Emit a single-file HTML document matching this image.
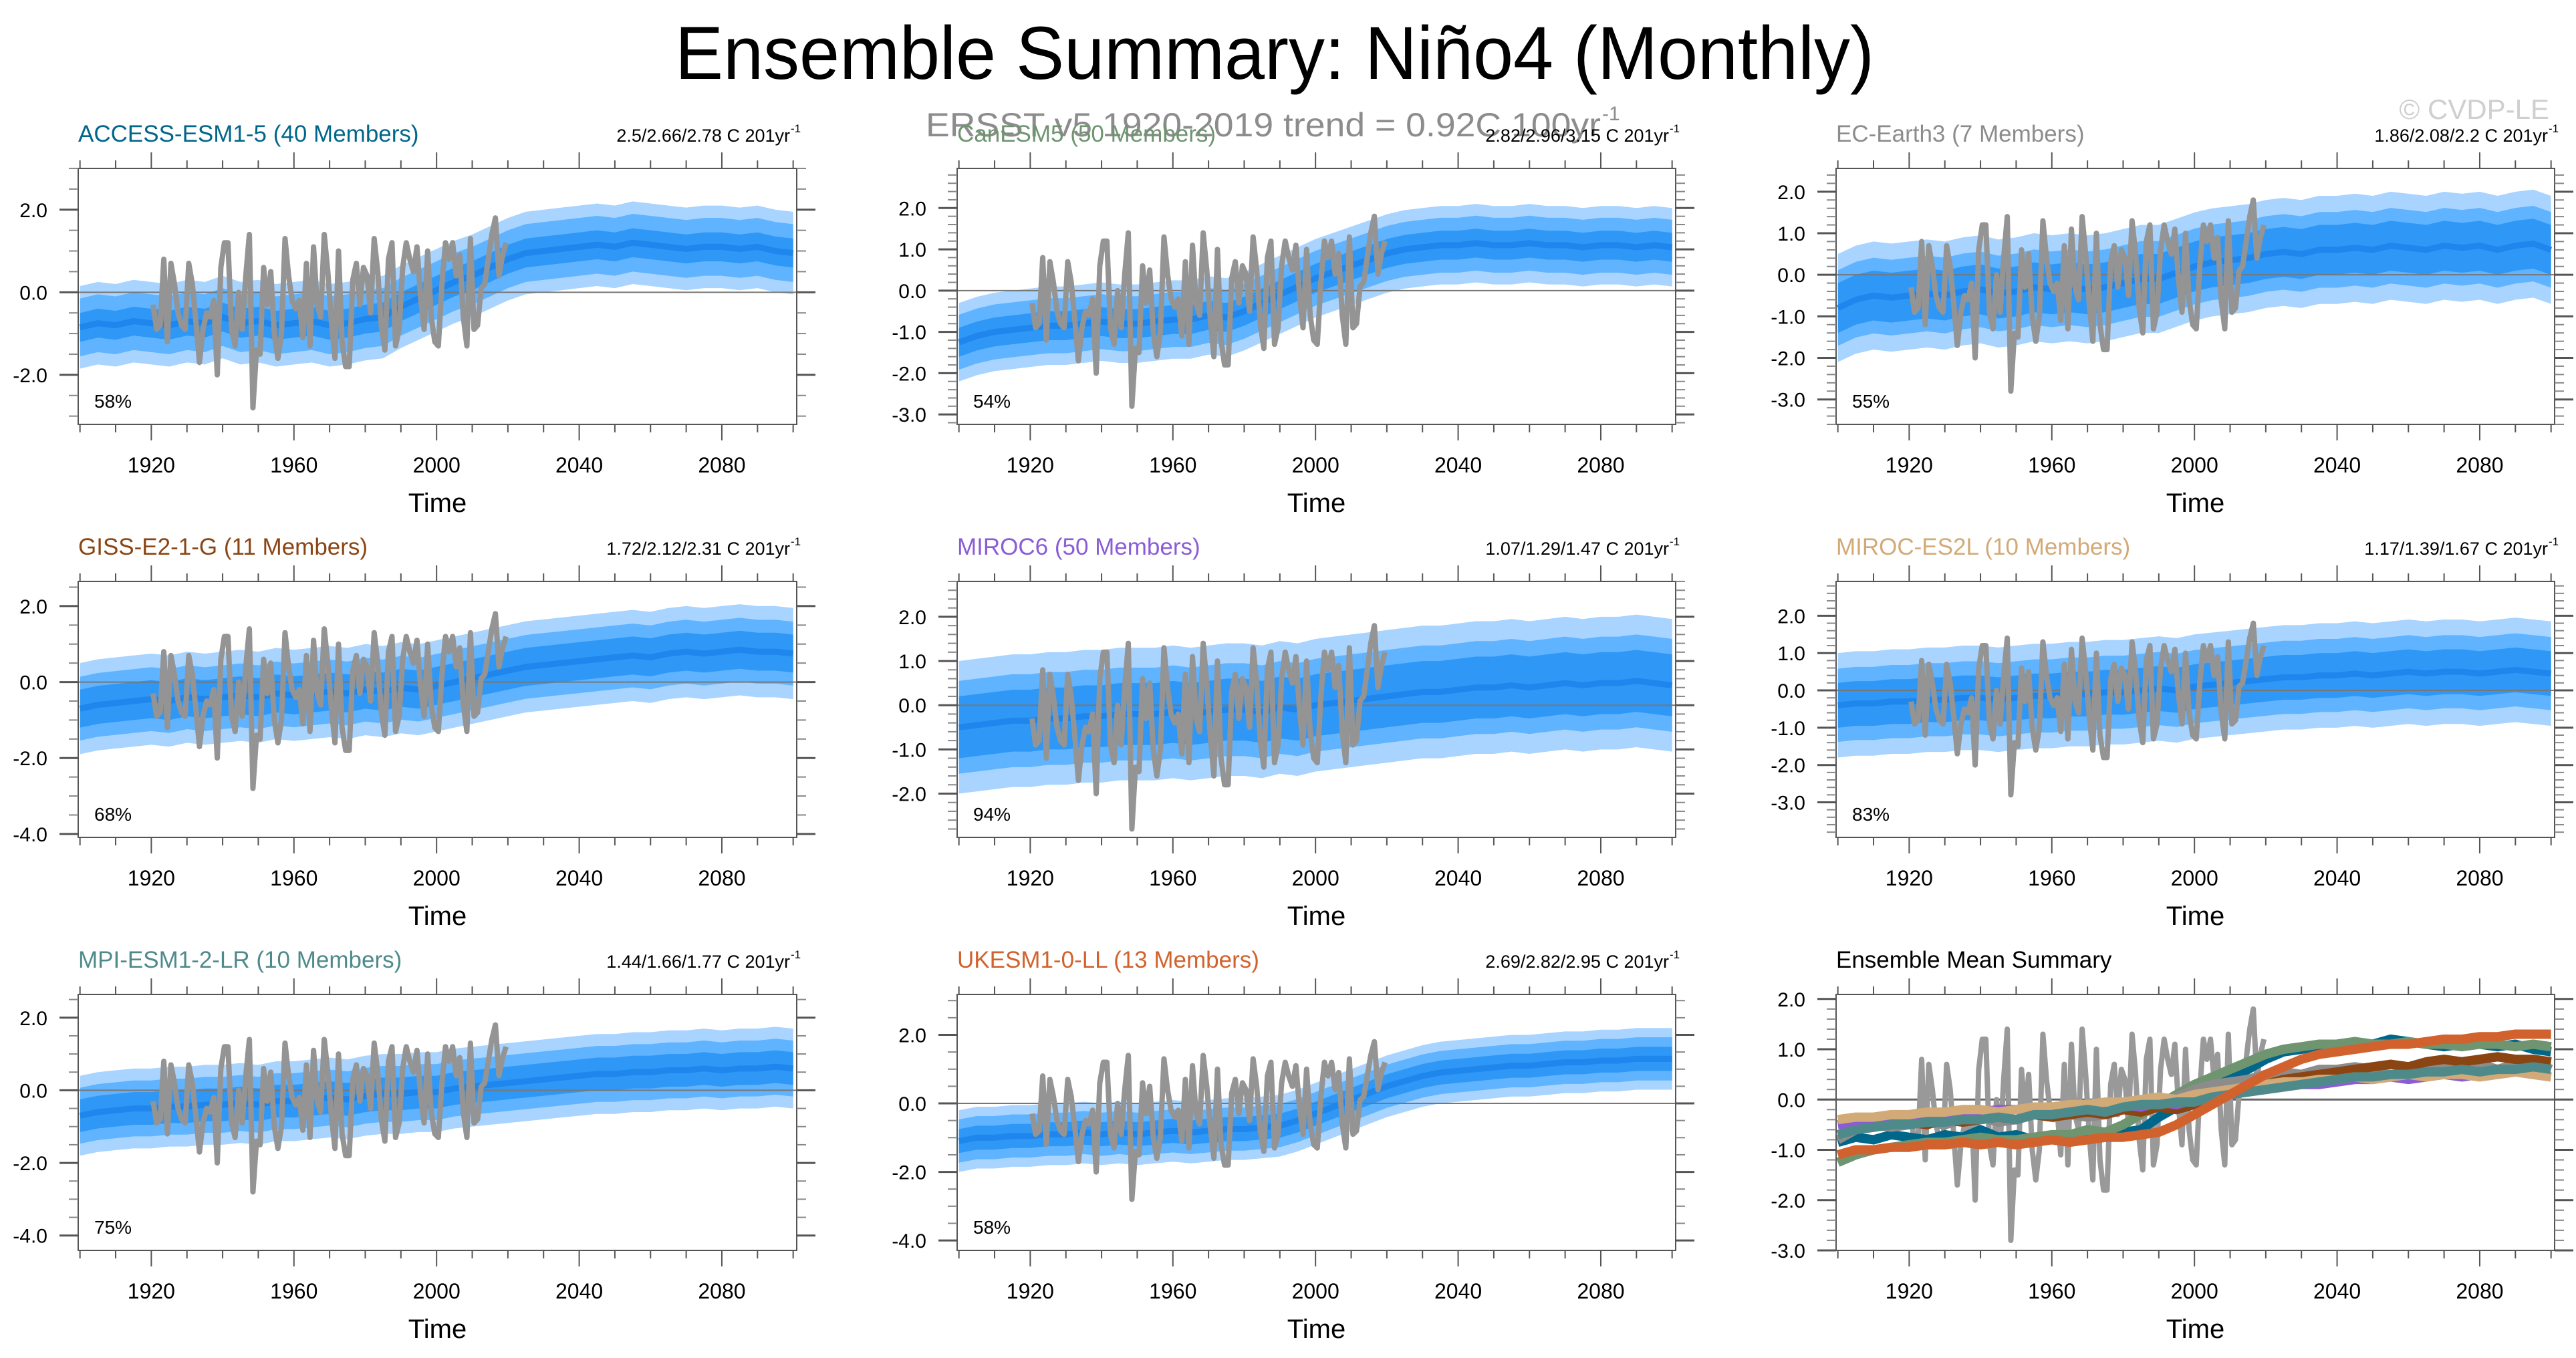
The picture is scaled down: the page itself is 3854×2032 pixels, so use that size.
<!DOCTYPE html>
<html><head><meta charset="utf-8"><style>
html,body{margin:0;padding:0;background:#fff}
svg{display:block;font-family:"Liberation Sans",sans-serif}
</style></head><body>
<svg id="chart" width="3854" height="2032" viewBox="0 0 3854 2032" xmlns="http://www.w3.org/2000/svg">
<text x="1907" y="118" font-size="112" text-anchor="middle" textLength="1794" lengthAdjust="spacingAndGlyphs">Ensemble Summary: Niño4 (Monthly)</text>
<text x="1385" y="204" font-size="50" fill="#8c8c8c" textLength="1010" lengthAdjust="spacingAndGlyphs">ERSST v5 1920-2019 trend = 0.92C 100yr</text>
<text x="2397" y="180" font-size="30" fill="#8c8c8c">-1</text>
<text x="3814" y="178" font-size="42" fill="#cfcfcf" text-anchor="end">© CVDP-LE</text>
<g id="panels"></g>
</svg>
<script>
// ---- data ----
const models = ["ACCESS-ESM1-5 (40 Members)","CanESM5 (50 Members)","EC-Earth3 (7 Members)","GISS-E2-1-G (11 Members)","MIROC6 (50 Members)","MIROC-ES2L (10 Members)","MPI-ESM1-2-LR (10 Members)","UKESM1-0-LL (13 Members)"];
const modelColors = ["#00678a","#6f9470","#8c8c8c","#8b4513","#8a5cd6","#d2aa78","#4f8a8b","#d2622d"];
const trendLabels = ["2.5/2.66/2.78 C 201yr","2.82/2.96/3.15 C 201yr","1.86/2.08/2.2 C 201yr","1.72/2.12/2.31 C 201yr","1.07/1.29/1.47 C 201yr","1.17/1.39/1.67 C 201yr","1.44/1.66/1.77 C 201yr","2.69/2.82/2.95 C 201yr"];
const pctLabels = ["58%","54%","55%","68%","94%","83%","75%","58%"];
const yMins = [-3.2,-3.24,-3.6,-4.09,-2.99,-3.94,-4.41,-4.29,-3.0];
const yMaxs = [3.0,2.96,2.56,2.65,2.8,2.92,2.64,3.18,2.09];
const yTickSets = [[2,0,-2],[2,1,0,-1,-2,-3],[2,1,0,-1,-2,-3],[2,0,-2,-4],[2,1,0,-1,-2],[2,1,0,-1,-2,-3],[2,0,-2,-4],[2,0,-2,-4],[2,1,0,-1,-2,-3]];
const xTickLabels = [1920,1960,2000,2040,2080];
const meanYears = [1900,1905,1910,1915,1920,1925,1930,1935,1940,1945,1950,1955,1960,1965,1970,1975,1980,1985,1990,1995,2000,2005,2010,2015,2020,2025,2030,2035,2040,2045,2050,2055,2060,2065,2070,2075,2080,2085,2090,2095,2100];
const meanAccess = [-0.85,-0.75,-0.8,-0.7,-0.75,-0.8,-0.7,-0.75,-0.6,-0.75,-0.7,-0.8,-0.75,-0.7,-0.8,-0.75,-0.65,-0.6,-0.35,-0.15,0.05,0.25,0.4,0.6,0.8,0.95,1.0,1.05,1.1,1.15,1.1,1.2,1.15,1.1,1.05,1.1,1.1,1.05,1.1,1.0,0.95];
const meanCan = [-1.25,-1.1,-1.0,-0.95,-0.9,-0.85,-0.85,-0.8,-0.75,-0.8,-0.8,-0.75,-0.7,-0.7,-0.6,-0.65,-0.5,-0.3,-0.1,0.1,0.3,0.45,0.6,0.75,0.9,1.0,1.05,1.1,1.1,1.15,1.1,1.1,1.15,1.1,1.1,1.05,1.1,1.1,1.05,1.1,1.05];
const meanEC = [-0.8,-0.6,-0.5,-0.55,-0.5,-0.45,-0.5,-0.4,-0.35,-0.45,-0.4,-0.3,-0.35,-0.3,-0.35,-0.3,-0.2,-0.1,-0.1,0.05,0.2,0.3,0.35,0.4,0.5,0.55,0.5,0.6,0.6,0.65,0.6,0.7,0.65,0.6,0.7,0.65,0.7,0.6,0.7,0.75,0.6];
const meanGISS = [-0.7,-0.6,-0.55,-0.5,-0.45,-0.5,-0.4,-0.45,-0.4,-0.35,-0.4,-0.3,-0.35,-0.3,-0.25,-0.3,-0.2,-0.25,-0.15,-0.2,-0.1,0.0,0.1,0.2,0.3,0.4,0.45,0.5,0.55,0.6,0.65,0.7,0.65,0.75,0.8,0.75,0.8,0.85,0.8,0.8,0.75];
const meanMIROC6 = [-0.5,-0.45,-0.4,-0.35,-0.35,-0.3,-0.3,-0.25,-0.25,-0.2,-0.2,-0.2,-0.15,-0.2,-0.15,-0.1,-0.1,-0.15,-0.05,-0.1,0.0,0.05,0.1,0.15,0.2,0.25,0.3,0.3,0.35,0.4,0.4,0.45,0.4,0.45,0.5,0.45,0.5,0.5,0.55,0.5,0.45];
const meanES2L = [-0.4,-0.35,-0.35,-0.3,-0.3,-0.25,-0.25,-0.2,-0.2,-0.25,-0.2,-0.15,-0.15,-0.1,-0.1,-0.05,-0.05,0.0,0.05,0.0,0.1,0.15,0.2,0.25,0.3,0.35,0.35,0.4,0.4,0.45,0.4,0.45,0.5,0.45,0.5,0.5,0.45,0.5,0.55,0.5,0.45];
const meanMPI = [-0.7,-0.6,-0.55,-0.5,-0.5,-0.45,-0.45,-0.4,-0.4,-0.35,-0.4,-0.3,-0.3,-0.25,-0.2,-0.25,-0.15,-0.1,-0.1,-0.05,-0.05,0.05,0.1,0.15,0.2,0.25,0.3,0.35,0.4,0.45,0.45,0.5,0.5,0.55,0.55,0.6,0.55,0.6,0.6,0.65,0.6];
const meanUK = [-1.1,-1.0,-1.0,-0.95,-0.95,-0.9,-0.9,-0.85,-0.9,-0.85,-0.9,-0.85,-0.8,-0.85,-0.8,-0.75,-0.75,-0.7,-0.65,-0.5,-0.3,-0.1,0.1,0.3,0.5,0.65,0.8,0.9,0.95,1.0,1.05,1.1,1.1,1.15,1.2,1.2,1.25,1.25,1.3,1.3,1.3];
const spreadOuter = [1.0,0.95,1.3,1.2,1.5,1.4,1.1,0.9];
const spreadInner = [0.35,0.35,0.6,0.5,0.7,0.6,0.45,0.35];
const obsYears = [1920,1921,1922,1923,1924,1925,1926,1927,1928,1929,1930,1931,1932,1933,1934,1935,1936,1937,1938,1939,1940,1941,1942,1943,1944,1945,1946,1947,1948,1949,1950,1951,1952,1953,1954,1955,1956,1957,1958,1959,1960,1961,1962,1963,1964,1965,1966,1967,1968,1969,1970,1971,1972,1973,1974,1975,1976,1977,1978,1979,1980,1981,1982,1983,1984,1985,1986,1987,1988,1989,1990,1991,1992,1993,1994,1995,1996,1997,1998,1999,2000,2001,2002,2003,2004,2005,2006,2007,2008,2009,2010,2011,2012,2013,2014,2015,2016,2017,2018,2019];
const obsValues = [-0.3,-0.9,-0.8,0.8,-1.2,0.7,0.2,-0.5,-0.8,-0.9,0.7,0.2,-0.7,-1.7,-0.9,-0.5,-0.6,-0.2,-2.0,0.6,1.2,1.2,-0.9,-1.3,0.0,-0.9,0.4,1.4,-2.8,-1.4,-1.5,0.6,-0.3,0.5,-1.0,-1.6,-1.0,1.3,0.4,-0.2,-0.4,-0.2,-1.1,0.7,-1.3,1.1,-0.3,-0.6,1.4,0.5,-0.7,-1.6,1.0,-1.2,-1.8,-1.8,0.3,0.7,-0.3,0.6,0.4,-0.5,1.3,0.5,-0.8,-1.4,0.8,1.2,-1.3,-0.9,0.6,1.2,0.8,0.5,1.1,-0.1,-0.9,1.0,-0.6,-1.2,-1.3,0.2,1.2,0.8,1.2,0.4,0.9,-0.6,-1.3,1.3,-0.9,-0.8,0.1,0.2,0.8,1.4,1.8,0.4,0.9,1.2];
const modelMeans = [meanAccess,meanCan,meanEC,meanGISS,meanMIROC6,meanES2L,meanMPI,meanUK];

// ---- layout ----
const NS="http://www.w3.org/2000/svg";
const colLeft=[117,1432,2747], rowTop=[252,870,1488], PW=1075, PH=383;
const X0=1899.5, X1=2101;
const root=document.getElementById('panels');
function el(tag,attrs,parent){const e=document.createElementNS(NS,tag);for(const k in attrs)e.setAttribute(k,attrs[k]);(parent||root).appendChild(e);return e;}

function drawPanel(i){
  const L=colLeft[i%3], T=rowTop[Math.floor(i/3)];
  const ymin=yMins[i], ymax=yMaxs[i];
  const sx=yr=>L+(yr-X0)/(X1-X0)*PW;
  const sy=v=>T+(ymax-v)/(ymax-ymin)*PH;
  const g=el('g',{});
  
  
  const clipId='clip'+i;
  const cp=el('clipPath',{id:clipId},g); el('rect',{x:L,y:T,width:PW,height:PH},cp);
  const plot=el('g',{'clip-path':'url(#'+clipId+')'},g);
  if(i<8){
    const m=modelMeans[i];
    const band=(w,fill,name)=>{
      let pts=meanYears.map((yr,k)=>sx(yr)+','+sy(m[k]+w)).concat(meanYears.slice().reverse().map((yr,k)=>sx(yr)+','+sy(m[m.length-1-k]-w)));
      const p=el('polygon',{points:pts.join(' '),fill:fill},plot);
      
      
    };
    band(spreadOuter[i],'#a8d4ff','ensemble-outer-spread');
    band(spreadOuter[i]*0.7,'#5fb3ff','ensemble-middle-spread');
    band(spreadInner[i],'#2f97f5','ensemble-inner-spread');
    const zl=el('line',{x1:L,x2:L+PW,y1:sy(0),y2:sy(0),stroke:'#777','stroke-width':2},plot);
    
    
    const ml=el('polyline',{points:meanYears.map((yr,k)=>sx(yr)+','+sy(m[k])).join(' '),fill:'none',stroke:'#1e86ec','stroke-width':9,'stroke-linejoin':'round'},plot);
    
    
    const ol=el('polyline',{points:obsYears.map((yr,k)=>sx(yr+0.5)+','+sy(obsValues[k])).join(' '),fill:'none',stroke:'#949494','stroke-width':8,'stroke-linejoin':'round'},plot);
    
    
  } else {
    const zl=el('line',{x1:L,x2:L+PW,y1:sy(0),y2:sy(0),stroke:'#666','stroke-width':3},plot);
    
    
    const ol=el('polyline',{points:obsYears.map((yr,k)=>sx(yr+0.5)+','+sy(obsValues[k])).join(' '),fill:'none',stroke:'#999','stroke-width':8,'stroke-linejoin':'round'},plot);
    
    
    modelMeans.forEach((m,j)=>{
      const pl=el('polyline',{points:meanYears.map((yr,k)=>sx(yr)+','+sy(m[k])).join(' '),fill:'none',stroke:modelColors[j],'stroke-width':14,'stroke-linejoin':'round'},plot);
      
      
    });
  }
  // frame
  const fr=el('rect',{x:L,y:T,width:PW,height:PH,fill:'none',stroke:'#555','stroke-width':2},g);
  
  
  // x ticks
  for(let yr=1900;yr<=2100;yr+=10){
    const major=xTickLabels.includes(yr), len=major?24:12, x=sx(yr);
    el('line',{x1:x,x2:x,y1:T,y2:T-len,stroke:'#555','stroke-width':2},g);
    el('line',{x1:x,x2:x,y1:T+PH,y2:T+PH+len,stroke:'#555','stroke-width':2},g);
  }
  xTickLabels.forEach(yr=>{
    const t=el('text',{x:sx(yr),y:T+PH+72,'font-size':32,'text-anchor':'middle'},g);
    t.textContent=yr;
    
    
  });
  // y ticks
  const ticks=yTickSets[i], step=Math.abs(ticks[0]-ticks[1]), minor=step>=2?0.5:0.2;
  for(let v=Math.ceil(ymin/minor)*minor; v<=ymax+1e-6; v+=minor){
    const y=sy(v);
    el('line',{x1:L,x2:L-14,y1:y,y2:y,stroke:'#888','stroke-width':2},g);
    el('line',{x1:L+PW,x2:L+PW+14,y1:y,y2:y,stroke:'#888','stroke-width':2},g);
  }
  ticks.forEach(v=>{
    const y=sy(v);
    el('line',{x1:L,x2:L-28,y1:y,y2:y,stroke:'#555','stroke-width':3},g);
    el('line',{x1:L+PW,x2:L+PW+28,y1:y,y2:y,stroke:'#555','stroke-width':3},g);
    const t=el('text',{x:L-46,y:y+11,'font-size':30,'text-anchor':'end'},g);
    t.textContent=v.toFixed(1);
    
    
  });
  const xt=el('text',{x:L+PW/2,y:T+PH+131,'font-size':40,'text-anchor':'middle'},g);
  xt.textContent='Time';
  
  
  const tt=el('text',{x:L,y:T-40,'font-size':35,fill:i<8?modelColors[i]:'#000'},g);
  tt.textContent=i<8?models[i]:'Ensemble Mean Summary';
  
  
  if(i<8){
    const rt=el('text',{x:L+PW-10,y:T-40,'font-size':27,'text-anchor':'end'},g);
    rt.textContent=trendLabels[i];
    
    
    const sup=el('text',{x:L+PW-9,y:T-54,'font-size':17},g);
    sup.textContent='-1';
    const pt=el('text',{x:L+24,y:T+PH-25,'font-size':28},g);
    pt.textContent=pctLabels[i];
    
    
  }
}
for(let i=0;i<9;i++) drawPanel(i);
</script>
</body></html>
